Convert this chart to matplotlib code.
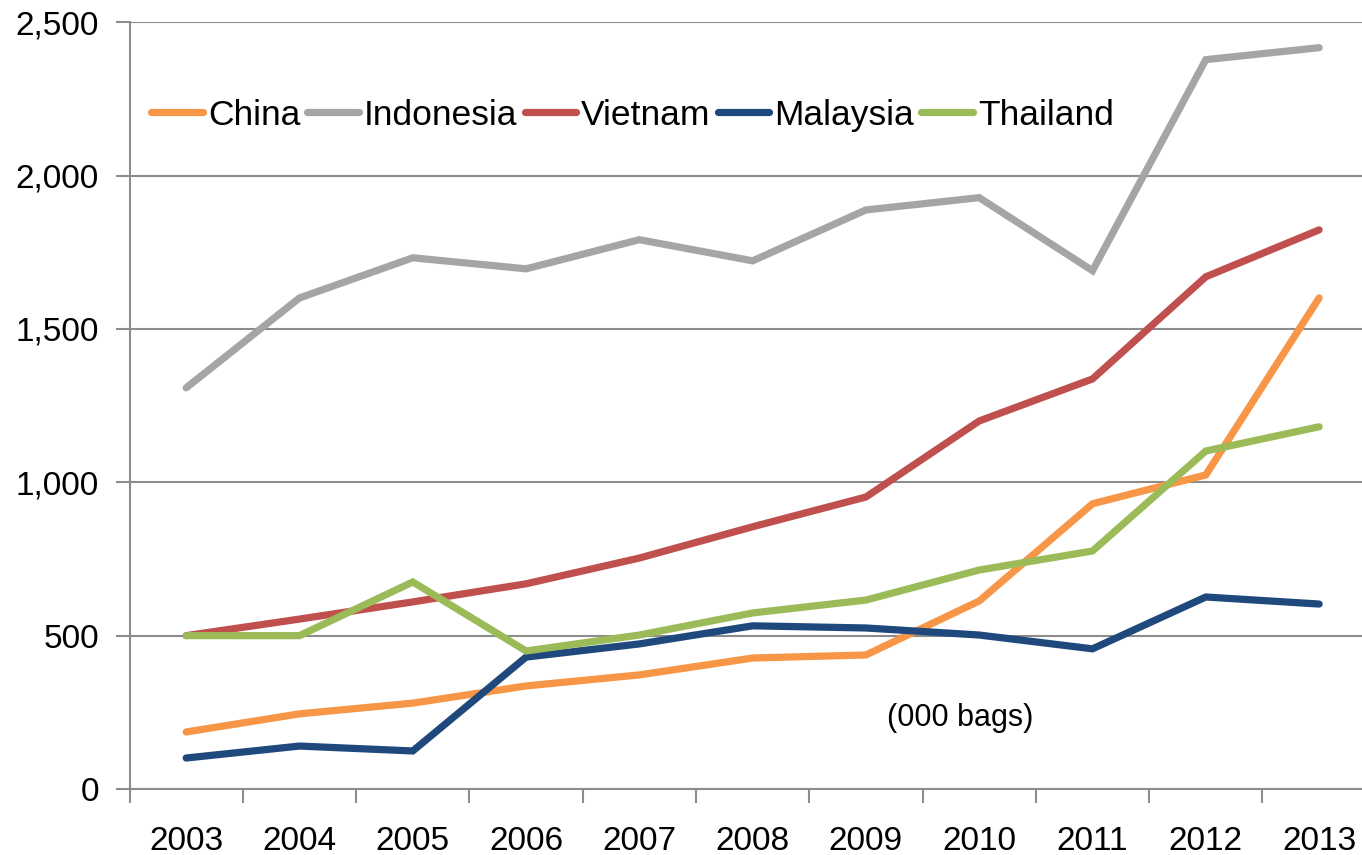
import numpy as np
import matplotlib.pyplot as plt
from matplotlib.ticker import FuncFormatter, FixedLocator

plt.rcParams['font.family'] = ['Liberation Sans', 'DejaVu Sans']

years = ['2003', '2004', '2005', '2006', '2007', '2008', '2009', '2010', '2011', '2012', '2013']
china = [186, 245, 280, 336, 372, 427, 437, 613, 930, 1024, 1601]
indonesia = [1308, 1601, 1732, 1696, 1791, 1722, 1888, 1928, 1690, 2378, 2417]
vietnam = [500, 554, 610, 669, 753, 855, 952, 1200, 1337, 1670, 1823]
malaysia = [101, 140, 124, 430, 473, 532, 525, 502, 457, 626, 603]
thailand = [500, 500, 675, 450, 502, 574, 616, 714, 776, 1102, 1181]

series = [
    ('China', china, '#F79646'),
    ('Indonesia', indonesia, '#A5A5A5'),
    ('Vietnam', vietnam, '#C0504D'),
    ('Malaysia', malaysia, '#1F497D'),
    ('Thailand', thailand, '#9BBB59'),
]

fig = plt.figure(figsize=(13.62, 8.55), dpi=100)
# the category axis runs a little past the right edge of the image
ax = fig.add_axes([0.0951, 0.0772, 0.915, 0.8968])

x = np.arange(len(years))
for name, vals, col in series:
    ax.plot(x, vals, color=col, lw=5.2, label=name, solid_capstyle='round',
            solid_joinstyle='miter')

ax.set_xlim(-0.5, len(years) - 0.5)
ax.set_ylim(0, 2500)
ax.set_yticks([0, 500, 1000, 1500, 2000, 2500])
ax.yaxis.set_major_formatter(FuncFormatter(lambda v, p: f'{int(v):,}'))
ax.grid(axis='y', color='#8C8C8C', lw=1.5)
ax.set_axisbelow(True)

ax.set_xticks(x)
ax.set_xticklabels(years)
ax.xaxis.set_minor_locator(FixedLocator(np.arange(-0.5, len(years), 1.0)))
ax.tick_params(axis='x', which='major', length=0, pad=27, labelsize=24)
ax.tick_params(axis='x', which='minor', length=10, width=1.5, color='#8C8C8C', direction='out')
ax.tick_params(axis='y', length=10, width=1.5, color='#8C8C8C', direction='out', pad=12, labelsize=24)

for s in ['top', 'right']:
    ax.spines[s].set_visible(False)
for s in ['left', 'bottom']:
    ax.spines[s].set_color('#8C8C8C')
    ax.spines[s].set_linewidth(1.5)

ax.text(6.83, 232, '(000 bags)', fontsize=22, ha='center', va='center')

ax.legend(loc='upper left', bbox_to_anchor=(0.006, 0.919), ncol=5, frameon=False,
          fontsize=25.5, handlelength=1.45, handletextpad=0.15, columnspacing=0.2,
          borderaxespad=0)

fig.savefig('out.png', dpi=100)
